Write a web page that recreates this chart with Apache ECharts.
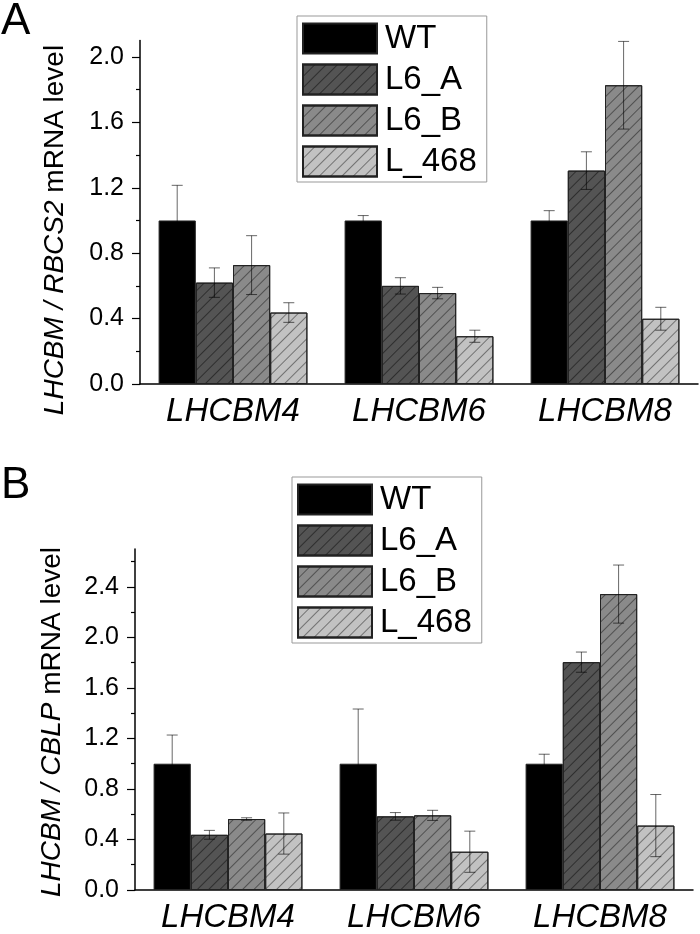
<!DOCTYPE html>
<html><head><meta charset="utf-8">
<script src="https://cdn.jsdelivr.net/npm/echarts@6/dist/echarts.min.js"></script>
<style>html,body{margin:0;padding:0;background:#fff}#c{width:700px;height:934px}</style>
</head><body><div id="c"></div>
<script>
// ---- data ----
const categories = ['LHCBM4', 'LHCBM6', 'LHCBM8'];
const seriesNames = ['WT', 'L6_A', 'L6_B', 'L_468'];

// Panel A: LHCBM / RBCS2
const A_WT = [1.0, 1.0, 1.0];
const A_WT_err = [0.215, 0.03, 0.06];
const A_L6A = [0.62, 0.60, 1.305];
const A_L6A_err = [0.09, 0.05, 0.115];
const A_L6B = [0.727, 0.556, 1.827];
const A_L6B_err = [0.18, 0.035, 0.268];
const A_L468 = [0.437, 0.292, 0.399];
const A_L468_err = [0.06, 0.037, 0.07];

// Panel B: LHCBM / CBLP
const B_WT = [1.0, 1.0, 1.0];
const B_WT_err = [0.227, 0.433, 0.075];
const B_L6A = [0.437, 0.583, 1.804];
const B_L6A_err = [0.035, 0.03, 0.08];
const B_L6B = [0.562, 0.591, 2.343];
const B_L6B_err = [0.01, 0.04, 0.23];
const B_L468 = [0.447, 0.303, 0.51];
const B_L468_err = [0.163, 0.163, 0.246];

const A_majorTicks = [0, 0.4, 0.8, 1.2, 1.6, 2.0];
const A_minorTicks = [0.2, 0.6, 1.0, 1.4, 1.8];
const B_majorTicks = [0, 0.4, 0.8, 1.2, 1.6, 2.0, 2.4];
const B_minorTicks = [0.2, 0.6, 1.0, 1.4, 1.8, 2.2, 2.6];
const A_max = 2.1;
const B_max = 2.7;

// ---- styles ----
const FONT = "'Liberation Sans', Arial, sans-serif";
const fills = ['#000000', '#545454', '#8a8a8a', '#c2c2c2'];
const hatch = [null, 'rgba(0,0,0,0.45)', 'rgba(0,0,0,0.42)', 'rgba(0,0,0,0.42)'];

function decalFor(i) {
  if (!hatch[i]) return null;
  return {
    symbol: 'rect', symbolSize: 1,
    dashArrayX: [1, 0], dashArrayY: [1, 7],
    rotation: -Math.PI / 4, color: hatch[i]
  };
}

const panels = [
  { vals: [A_WT, A_L6A, A_L6B, A_L468], errs: [A_WT_err, A_L6A_err, A_L6B_err, A_L468_err],
    major: A_majorTicks, minor: A_minorTicks, max: A_max },
  { vals: [B_WT, B_L6A, B_L6B, B_L468], errs: [B_WT_err, B_L6A_err, B_L6B_err, B_L468_err],
    major: B_majorTicks, minor: B_minorTicks, max: B_max }
];

const grids = [
  { left: 140, right: 2, top: 40.6, bottom: 550 },
  { left: 135, right: 7, top: 549, bottom: 41.3 }
];

const xAxes = [], yAxes = [], series = [];
panels.forEach((p, pi) => {
  xAxes.push({
    type: 'category', gridIndex: pi, data: categories,
    axisLine: { lineStyle: { color: '#000', width: 1.5 } },
    axisTick: { alignWithLabel: true, length: 8, lineStyle: { color: '#000', width: 1.2 } },
    axisLabel: { color: '#000', fontSize: 33, fontStyle: 'italic', fontFamily: FONT, margin: 11 },
    splitLine: { show: false }
  });
  yAxes.push({
    type: 'value', gridIndex: pi, position: 'left', min: 0, max: p.max, interval: 0.4,
    axisLine: { show: true, lineStyle: { color: '#000', width: 1.5 } },
    axisTick: { show: true, customValues: p.major, length: 8, lineStyle: { color: '#000', width: 1.2 } },
    axisLabel: { customValues: p.major, color: '#000', fontSize: 25, fontFamily: FONT, margin: 16,
      formatter: v => Number(v).toFixed(1) },
    splitLine: { show: false }
  });
  yAxes.push({
    type: 'value', gridIndex: pi, position: 'left', offset: 0, min: 0, max: p.max, interval: 0.4,
    axisLine: { show: false },
    axisTick: { show: true, customValues: p.minor, length: 4, lineStyle: { color: '#000', width: 1.2 } },
    axisLabel: { show: false },
    splitLine: { show: false }
  });
  p.vals.forEach((v, i) => {
    series.push({
      type: 'bar', name: seriesNames[i], xAxisIndex: pi, yAxisIndex: pi * 2,
      data: v, barGap: '0%', barCategoryGap: '20%',
      itemStyle: { color: fills[i], borderColor: '#222', borderWidth: 1, decal: decalFor(i) },
      emphasis: { disabled: true }
    });
  });
  const errData = [];
  p.vals.forEach((v, i) => v.forEach((val, j) => errData.push([j, val, p.errs[i][j], i])));
  series.push({
    type: 'custom', xAxisIndex: pi, yAxisIndex: pi * 2, data: errData, z: 5,
    encode: { x: 0, y: 1 },
    renderItem: function (params, api) {
      const j = api.value(0), v = api.value(1), e = api.value(2), k = api.value(3);
      const band = api.size([1, 0])[0];
      const bw = band * 0.8 / 4;
      const cx = api.coord([j, v])[0] - band * 0.4 + (k + 0.5) * bw;
      const yT = api.coord([j, v + e])[1];
      const yB = api.coord([j, v - e])[1];
      const cap = 5.5;
      const st = { stroke: 'rgba(0,0,0,0.6)', lineWidth: 1 };
      return { type: 'group', children: [
        { type: 'line', shape: { x1: cx, y1: yT, x2: cx, y2: yB }, style: st },
        { type: 'line', shape: { x1: cx - cap, y1: yT, x2: cx + cap, y2: yT }, style: st },
        { type: 'line', shape: { x1: cx - cap, y1: yB, x2: cx + cap, y2: yB }, style: st }
      ] };
    }
  });
});

const legendBase = {
  orient: 'vertical', data: seriesNames, icon: 'rect',
  itemWidth: 74, itemHeight: 30, itemGap: 8,
  padding: [6, 10, 4, 5],
  borderColor: '#999', borderWidth: 1, backgroundColor: '#fff',
  selectedMode: false,
  textStyle: { color: '#000', fontSize: 33, fontFamily: FONT, padding: [0, 0, 0, 3] }
};

const option = {
  animation: false,
  backgroundColor: '#fff',
  grid: grids,
  xAxis: xAxes,
  yAxis: yAxes,
  series: series,
  legend: [
    Object.assign({}, legendBase, { left: 297, top: 16 }),
    Object.assign({}, legendBase, { left: 292, top: 477 })
  ],
  graphic: [
    { type: 'text', left: 1, top: 0, style: { text: 'A', fontSize: 44, fontFamily: FONT, fill: '#000' } },
    { type: 'text', left: 1, top: 464, style: { text: 'B', fontSize: 44, fontFamily: FONT, fill: '#000' } },
    { type: 'text', x: 55, y: 230, rotation: Math.PI / 2,
      style: { text: '{i|LHCBM / RBCS2}{n| mRNA level}', align: 'center', verticalAlign: 'middle',
        fontSize: 28, fontFamily: FONT, fill: '#000',
        rich: { i: { fontStyle: 'italic', fontSize: 28, fontFamily: FONT }, n: { fontSize: 28, fontFamily: FONT } } } },
    { type: 'text', x: 52, y: 722, rotation: Math.PI / 2,
      style: { text: '{i|LHCBM / CBLP}{n| mRNA level}', align: 'center', verticalAlign: 'middle',
        fontSize: 28, fontFamily: FONT, fill: '#000',
        rich: { i: { fontStyle: 'italic', fontSize: 28, fontFamily: FONT }, n: { fontSize: 28, fontFamily: FONT } } } }
  ]
};

const chart = echarts.init(document.getElementById('c'));
chart.setOption(option);
</script>
</body></html>
